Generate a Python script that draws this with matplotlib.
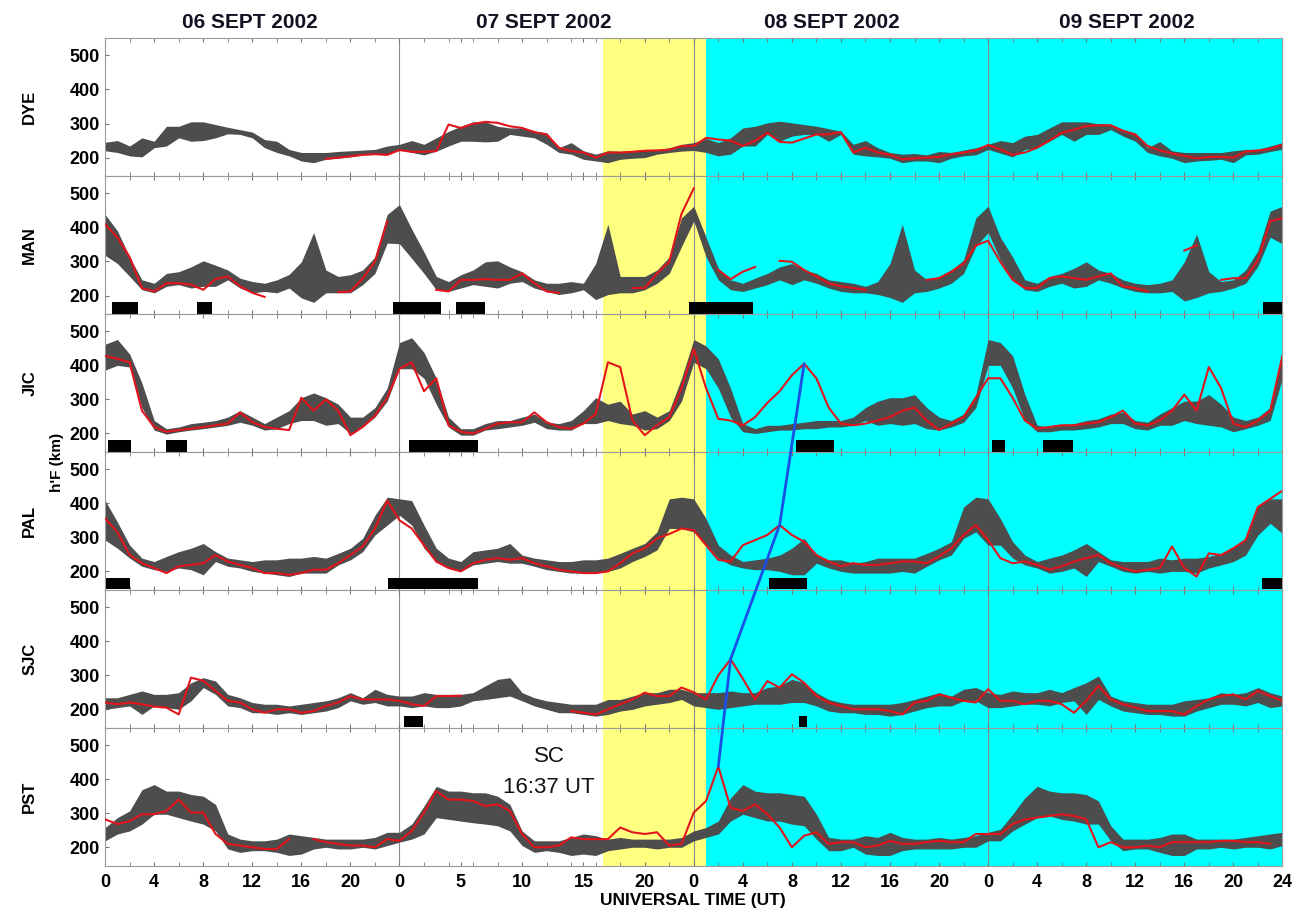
"""
h'F over six ionosonde stations, 06-09 Sept 2002: quiet-day band (gray),
storm-time values (red), spread F (black bars) and the uplift front (blue).
"""

import numpy as np
import matplotlib.pyplot as plt
from matplotlib.patches import ConnectionPatch

nan = np.nan

# hourly samples, hours counted from 00 UT on 06 Sept
HOURS = np.arange(97)

STATIONS = ["DYE", "MAN", "JIC", "PAL", "SJC", "PST"]
DAY_TITLES = ["06 SEPT 2002", "07 SEPT 2002", "08 SEPT 2002", "09 SEPT 2002"]
TICK_HOURS = [0, 4, 8, 12, 16, 20, 24, 29, 34, 39, 44, 48, 52, 56, 60, 64, 68,
              72, 76, 80, 84, 88, 92, 96]
TICK_LABELS = ["0", "4", "8", "12", "16", "20", "0", "5", "10", "15", "20",
               "0", "4", "8", "12", "16", "20", "0", "4", "8", "12", "16", "20", "24"]

SC_HOUR = 24 + 16 + 37 / 60  # storm sudden commencement, 07 Sept 16:37 UT
MAIN_PHASE_HOUR = 49.0

DYE_LO = [220, 215, 205, 202, 229, 234, 258, 248, 250, 258, 270, 268,
          258, 229, 215, 205, 190, 185, 195, 198, 202, 208, 210, 208,
          224, 215, 208, 219, 234, 248, 248, 246, 248, 268, 263, 258,
          239, 215, 210, 195, 190, 185, 195, 198, 200, 210, 215, 219,
          221, 215, 205, 210, 234, 234, 268, 248, 263, 268, 268, 248,
          268, 210, 205, 202, 198, 185, 190, 190, 185, 198, 205, 208,
          224, 213, 202, 224, 229, 248, 268, 248, 268, 268, 282, 263,
          248, 215, 205, 198, 185, 190, 192, 195, 185, 208, 210, 218,
          224]
DYE_HI = [245, 250, 234, 258, 248, 292, 292, 305, 305, 297, 289, 282,
          275, 253, 248, 224, 215, 215, 215, 218, 220, 222, 224, 234,
          239, 250, 239, 258, 277, 292, 305, 305, 292, 287, 287, 277,
          273, 229, 244, 220, 210, 220, 218, 220, 224, 224, 229, 239,
          244, 256, 244, 258, 287, 292, 302, 307, 302, 297, 292, 285,
          277, 239, 250, 229, 215, 210, 212, 208, 218, 215, 222, 229,
          239, 250, 244, 263, 268, 287, 305, 305, 305, 299, 297, 277,
          273, 229, 247, 220, 215, 215, 215, 215, 220, 224, 224, 234,
          244]
DYE_RED = [nan, nan, nan, nan, nan, nan, nan, nan, nan, nan, nan, nan,
           nan, nan, nan, nan, nan, nan, 196, 200, 204, 208, 210, 208,
           222, 217, 217, 219, 297, 287, 299, 305, 302, 292, 287, 275,
           268, 229, 219, 215, 200, 215, 215, 217, 220, 221, 223, 234,
           234, 258, 253, 250, 234, 250, 273, 246, 244, 256, 268, 268,
           275, 215, 229, 215, 208, 195, 198, 200, 202, 210, 215, 221,
           237, 224, 208, 215, 229, 250, 273, 282, 292, 295, 295, 279,
           268, 234, 221, 212, 205, 198, 202, 202, 200, 218, 221, 226,
           237]

MAN_LO = [318, 294, 256, 217, 208, 227, 232, 222, 227, 227, 246, 222,
          208, 212, 208, 222, 193, 180, 208, 208, 208, 232, 265, 354,
          352, 309, 265, 217, 212, 222, 232, 227, 222, 236, 241, 222,
          212, 203, 208, 217, 188, 203, 208, 208, 217, 236, 265, 344,
          419, 313, 246, 217, 212, 222, 232, 246, 232, 246, 236, 222,
          212, 208, 208, 203, 194, 180, 208, 212, 222, 236, 265, 344,
          385, 304, 246, 217, 212, 227, 236, 222, 227, 246, 236, 222,
          212, 208, 208, 212, 184, 194, 208, 212, 222, 236, 286, 371,
          352]
MAN_HI = [438, 390, 313, 246, 236, 265, 270, 284, 302, 289, 275, 251,
          241, 236, 246, 262, 299, 385, 275, 256, 261, 275, 313, 438,
          467, 395, 328, 256, 241, 261, 275, 299, 302, 284, 270, 246,
          236, 236, 241, 236, 294, 409, 256, 256, 256, 275, 313, 428,
          462, 371, 280, 246, 236, 251, 265, 284, 294, 275, 265, 246,
          241, 236, 227, 241, 294, 409, 275, 246, 256, 275, 304, 428,
          462, 371, 313, 246, 236, 256, 265, 280, 299, 275, 265, 246,
          236, 232, 236, 246, 299, 380, 270, 241, 246, 275, 332, 448,
          462]
MAN_RED = [409, 371, 313, 222, 212, 236, 236, 232, 217, 248, 256, 227,
           208, 196, nan, nan, nan, nan, nan, 210, 212, 250, 300, 418,
           nan, nan, nan, 217, 212, 246, 246, 248, 246, 246, 265, 236,
           212, 208, nan, nan, nan, nan, nan, 222, 222, 265, 299, 440,
           515, nan, 275, 248, 270, 284, nan, 302, 299, 275, 256, 236,
           227, 222, 217, nan, nan, nan, nan, 246, 251, 270, 294, 347,
           361, 299, 246, 222, 222, 251, 256, 251, 246, 256, 265, 227,
           222, 212, nan, nan, 332, 347, nan, 246, 251, 251, 304, 418,
           428]

JIC_LO = [386, 400, 395, 276, 210, 198, 205, 210, 214, 219, 224, 233,
          224, 210, 214, 229, 238, 238, 224, 229, 200, 219, 248, 295,
          390, 390, 362, 286, 219, 195, 195, 210, 214, 219, 224, 233,
          214, 210, 210, 229, 229, 238, 229, 224, 210, 214, 238, 295,
          409, 390, 333, 248, 205, 200, 205, 210, 210, 214, 214, 219,
          219, 224, 238, 224, 229, 224, 229, 214, 210, 219, 233, 276,
          400, 400, 333, 238, 205, 205, 210, 210, 214, 219, 229, 229,
          214, 210, 224, 224, 238, 229, 224, 219, 205, 214, 224, 238,
          362]
JIC_HI = [462, 476, 433, 348, 238, 214, 219, 229, 233, 238, 248, 267,
          248, 229, 248, 267, 305, 319, 305, 286, 248, 248, 276, 333,
          467, 481, 438, 362, 248, 214, 214, 229, 238, 238, 248, 257,
          233, 229, 238, 267, 305, 286, 295, 257, 267, 248, 267, 362,
          476, 457, 419, 333, 229, 214, 224, 224, 229, 233, 238, 238,
          238, 248, 276, 295, 305, 305, 314, 276, 248, 238, 257, 314,
          476, 467, 428, 314, 224, 219, 224, 229, 238, 243, 257, 262,
          238, 233, 257, 276, 295, 295, 314, 286, 248, 238, 248, 276,
          428]
JIC_RED = [428, 419, 409, 267, 219, 205, 210, 214, 219, 224, 229, 262,
           233, 219, 214, 210, 305, 267, 300, 267, 195, 219, 252, 305,
           390, 409, 324, 362, 224, 205, 200, 214, 229, 233, 233, 262,
           233, 219, 214, 229, 257, 409, 395, 238, 195, 224, 248, 333,
           448, 333, 243, 238, 224, 248, 290, 324, 371, 405, 362, 276,
           229, 224, 229, 238, 248, 267, 276, 238, 210, 229, 248, 305,
           362, 362, 305, 238, 214, 219, 224, 224, 229, 233, 248, 267,
           229, 224, 238, 267, 314, 267, 395, 333, 229, 219, 238, 267,
           428]

PAL_LO = [292, 268, 239, 215, 205, 200, 210, 205, 190, 229, 215, 210,
          200, 195, 190, 185, 195, 195, 195, 219, 234, 258, 307, 336,
          365, 336, 268, 229, 210, 200, 219, 224, 229, 224, 224, 215,
          205, 200, 195, 195, 195, 200, 210, 229, 244, 263, 326, 326,
          316, 277, 239, 219, 210, 205, 205, 200, 190, 190, 224, 210,
          200, 195, 195, 195, 195, 200, 195, 215, 234, 248, 297, 316,
          277, 277, 239, 219, 210, 195, 200, 210, 185, 229, 215, 200,
          195, 200, 195, 200, 200, 195, 210, 219, 229, 248, 307, 341,
          311]
PAL_HI = [408, 345, 277, 239, 229, 244, 258, 268, 282, 258, 239, 234,
          229, 234, 234, 239, 239, 244, 239, 253, 268, 297, 365, 418,
          413, 408, 336, 268, 239, 229, 258, 263, 268, 282, 248, 239,
          234, 229, 229, 234, 234, 239, 253, 268, 282, 316, 413, 418,
          413, 355, 277, 248, 229, 234, 239, 248, 268, 297, 248, 234,
          234, 224, 229, 239, 239, 239, 239, 253, 268, 287, 389, 418,
          413, 355, 287, 248, 229, 239, 248, 263, 282, 258, 234, 229,
          229, 229, 239, 234, 239, 239, 244, 253, 268, 297, 394, 413,
          413]
PAL_RED = [355, 316, 248, 224, 210, 195, 215, 219, 224, 248, 229, 219,
           210, 195, 195, 190, 195, 205, 205, 224, 248, 273, 326, 408,
           350, 326, 277, 229, 210, 200, 224, 234, 239, 234, 239, 224,
           215, 205, 200, 195, 195, 200, 224, 253, 268, 297, 310, 326,
           321, 277, 234, 229, 277, 292, 307, 336, 307, 287, 248, 229,
           215, 224, 219, 219, 224, 229, 229, 224, 244, 268, 307, 336,
           292, 239, 224, 229, 219, 205, 215, 229, 239, 248, 224, 210,
           200, 205, 210, 273, 210, 185, 253, 248, 268, 292, 389, 413,
           437]

SJC_LO = [200, 205, 210, 185, 210, 205, 200, 225, 264, 244, 210, 205,
          190, 190, 185, 190, 185, 190, 195, 205, 225, 215, 220, 210,
          210, 205, 210, 205, 205, 210, 225, 229, 234, 239, 225, 210,
          200, 190, 190, 185, 180, 185, 195, 200, 210, 215, 220, 229,
          210, 205, 200, 205, 210, 215, 215, 215, 220, 220, 210, 195,
          190, 190, 185, 185, 180, 185, 195, 205, 210, 210, 225, 225,
          205, 205, 210, 215, 215, 210, 220, 225, 185, 229, 210, 195,
          190, 185, 185, 180, 180, 195, 205, 215, 215, 210, 220, 205,
          210]
SJC_HI = [234, 234, 244, 254, 244, 244, 249, 278, 293, 283, 244, 234,
          220, 215, 215, 210, 215, 220, 225, 234, 249, 234, 259, 244,
          239, 239, 249, 244, 244, 244, 249, 269, 288, 293, 249, 234,
          225, 220, 215, 215, 215, 229, 229, 239, 249, 249, 259, 259,
          249, 249, 249, 254, 249, 249, 264, 269, 288, 278, 249, 229,
          220, 215, 215, 215, 215, 220, 229, 239, 249, 239, 259, 264,
          249, 244, 254, 249, 249, 259, 249, 264, 278, 298, 239, 225,
          220, 215, 215, 215, 225, 229, 234, 249, 244, 249, 264, 249,
          239]
SJC_RED = [220, 215, 220, 215, 208, 205, 185, 293, 284, 254, 225, 220,
           200, 190, 200, 200, 190, 195, 210, 220, 239, 229, 229, 229,
           225, 215, 210, 239, 239, 240, nan, nan, nan, nan, nan, nan,
           nan, nan, 195, 190, 185, 200, 215, 229, 249, 239, 239, 264,
           250, 229, 300, 347, 290, 229, 283, 264, 303, 278, 239, 220,
           210, 200, 200, 200, 195, 185, 220, 225, 244, 234, 225, 220,
           259, 225, 225, 215, 225, 225, 215, 190, 225, 269, 229, 215,
           205, 195, 195, 195, 185, 210, 229, 239, 244, 229, 254, 239,
           225]

PST_LO = [219, 239, 248, 268, 297, 297, 287, 277, 268, 248, 195, 185,
          190, 190, 185, 176, 180, 195, 200, 195, 195, 200, 195, 205,
          215, 224, 239, 287, 282, 277, 272, 268, 263, 248, 205, 185,
          190, 185, 176, 180, 176, 190, 195, 200, 200, 195, 200, 200,
          219, 229, 239, 277, 297, 287, 277, 277, 268, 263, 224, 190,
          190, 200, 180, 176, 176, 190, 195, 195, 195, 195, 200, 200,
          219, 219, 248, 268, 287, 292, 282, 277, 268, 268, 219, 190,
          195, 195, 185, 176, 176, 195, 195, 200, 195, 200, 200, 195,
          205]
PST_HI = [258, 287, 307, 369, 384, 365, 365, 355, 350, 326, 239, 224,
          219, 219, 224, 239, 234, 229, 224, 224, 224, 224, 229, 244,
          244, 268, 321, 379, 365, 365, 360, 360, 350, 326, 248, 219,
          219, 219, 229, 239, 234, 224, 229, 224, 224, 224, 224, 229,
          248, 258, 277, 345, 384, 365, 360, 360, 355, 350, 297, 229,
          224, 224, 234, 229, 244, 229, 224, 224, 229, 224, 229, 234,
          244, 253, 297, 345, 379, 365, 360, 360, 355, 336, 263, 224,
          224, 224, 229, 239, 239, 224, 224, 224, 224, 229, 234, 239,
          244]
PST_RED = [282, 268, 277, 297, 297, 307, 340, 302, 302, 239, 210, 205,
           200, 195, 195, 224, nan, 224, 215, 210, 205, 205, 200, 224,
           219, 248, 302, 365, 340, 340, 336, 321, 326, 307, 239, 200,
           200, 205, 229, 224, 224, 224, 258, 244, 239, 244, 205, 210,
           302, 336, 437, 316, 307, 326, 297, 258, 200, 234, 244, 210,
           215, 215, 200, 205, 219, 210, 210, 215, 219, 215, 215, 239,
           239, 239, 268, 282, 287, 292, 297, 292, 282, 200, 215, 200,
           200, 205, 200, 215, 215, 215, 215, 219, 219, 215, 215, 210,
           nan]

# spread F intervals: (start hour, duration)
MAN_SF = [(0.6, 2.1), (7.5, 1.2), (23.5, 3.9), (28.6, 2.4), (47.6, 5.2), (94.4, 1.6)]
JIC_SF = [(0.2, 1.9), (5.0, 1.7), (24.8, 5.6), (56.3, 3.1), (72.3, 1.1), (76.5, 2.4)]
PAL_SF = [(0.1, 1.9), (23.1, 7.3), (54.1, 3.1), (94.3, 1.7)]
SJC_SF = [(24.4, 1.5), (56.6, 0.6)]

# uplift peaks joined by the blue line, from PST up to JIC
BLUE_STATIONS = ["PST", "SJC", "PAL", "JIC"]
BLUE_HOURS = [50, 51, 55, 57]
BLUE_HEIGHTS = [437, 347, 336, 405]

DATA = {
    "DYE": (DYE_LO, DYE_HI, DYE_RED, []),
    "MAN": (MAN_LO, MAN_HI, MAN_RED, MAN_SF),
    "JIC": (JIC_LO, JIC_HI, JIC_RED, JIC_SF),
    "PAL": (PAL_LO, PAL_HI, PAL_RED, PAL_SF),
    "SJC": (SJC_LO, SJC_HI, SJC_RED, SJC_SF),
    "PST": (PST_LO, PST_HI, PST_RED, []),
}

plt.rcParams["font.family"] = ["Liberation Sans", "DejaVu Sans"]

fig, axes = plt.subplots(6, 1, figsize=(12.98, 9.14), dpi=100, sharex=True)
fig.subplots_adjust(left=0.081, right=0.988, top=0.958, bottom=0.0525, hspace=0)

for ax, name in zip(axes, STATIONS):
    lo, hi, red, sf = DATA[name]
    ax.axvspan(SC_HOUR, MAIN_PHASE_HOUR, color="#ffff80", lw=0, zorder=0)
    ax.axvspan(MAIN_PHASE_HOUR, 96, color="#00ffff", lw=0, zorder=0)
    for d in (24, 48, 72):
        ax.axvline(d, color="#8c8c8c", lw=0.8, zorder=1)
    ax.fill_between(HOURS, lo, hi, color="#4d4d4d", lw=0, zorder=2)
    ax.plot(HOURS, red, color="#e3141b", lw=1.5, zorder=3)
    if sf:
        ax.broken_barh(sf, (147, 34), facecolors="black", zorder=4)

    ax.set_xlim(0, 96)
    ax.set_ylim(145, 550)
    ax.set_yticks([200, 300, 400, 500])
    ax.set_xticks(TICK_HOURS)
    ax.set_xticks(np.arange(0, 97, 2), minor=True)
    ax.tick_params(axis="x", which="both", direction="in", top=True, bottom=True,
                   length=3, color="#777777")
    ax.tick_params(axis="y", direction="in", length=3, color="#777777", pad=4)
    for lbl in ax.get_yticklabels():
        lbl.set_fontsize(13)
        lbl.set_fontweight("bold")
    for sp in ax.spines.values():
        sp.set_color("#9a9a9a")
        sp.set_linewidth(0.8)
    ax.text(-0.064, 0.5, name, transform=ax.transAxes, rotation=90,
            ha="center", va="center", fontsize=12, fontweight="bold")

ax_bottom = axes[-1]
ax_bottom.set_xticklabels(TICK_LABELS, fontsize=13, fontweight="bold")
ax_bottom.tick_params(axis="x", pad=6)

# day titles sit a little left of each day's centre, as in the source figure
for i, title in enumerate(DAY_TITLES):
    x_mid = 12 + 24 * i - (0.2 if i < 2 else 0.7)
    axes[0].text(x_mid, 1.115, title, transform=axes[0].get_xaxis_transform(),
                 ha="center", va="center", fontsize=15, fontweight="bold", color="#111122")

fig.text(0.534, 1 - 900 / 914, "UNIVERSAL TIME (UT)", ha="center", va="center",
         fontsize=12.5, fontweight="bold")
fig.text(57 / 1298, 1 - 462 / 914, "h'F (km)", rotation=90, ha="center", va="center",
         fontsize=11, fontweight="bold")

pst = axes[STATIONS.index("PST")]
pst.text(36.2, 468, "SC", ha="center", va="center", fontsize=16, color="#111111")
pst.text(36.2, 376, "16:37 UT", ha="center", va="center", fontsize=16, color="#111111")

# blue line joining the uplift peaks across the panels
for k in range(len(BLUE_STATIONS) - 1):
    ax_a = axes[STATIONS.index(BLUE_STATIONS[k])]
    ax_b = axes[STATIONS.index(BLUE_STATIONS[k + 1])]
    con = ConnectionPatch(xyA=(BLUE_HOURS[k], BLUE_HEIGHTS[k]), coordsA="data", axesA=ax_a,
                          xyB=(BLUE_HOURS[k + 1], BLUE_HEIGHTS[k + 1]), coordsB="data",
                          axesB=ax_b, color="#1a4fe6", lw=2, zorder=10)
    fig.add_artist(con)

fig.savefig("out.png", dpi=100)
